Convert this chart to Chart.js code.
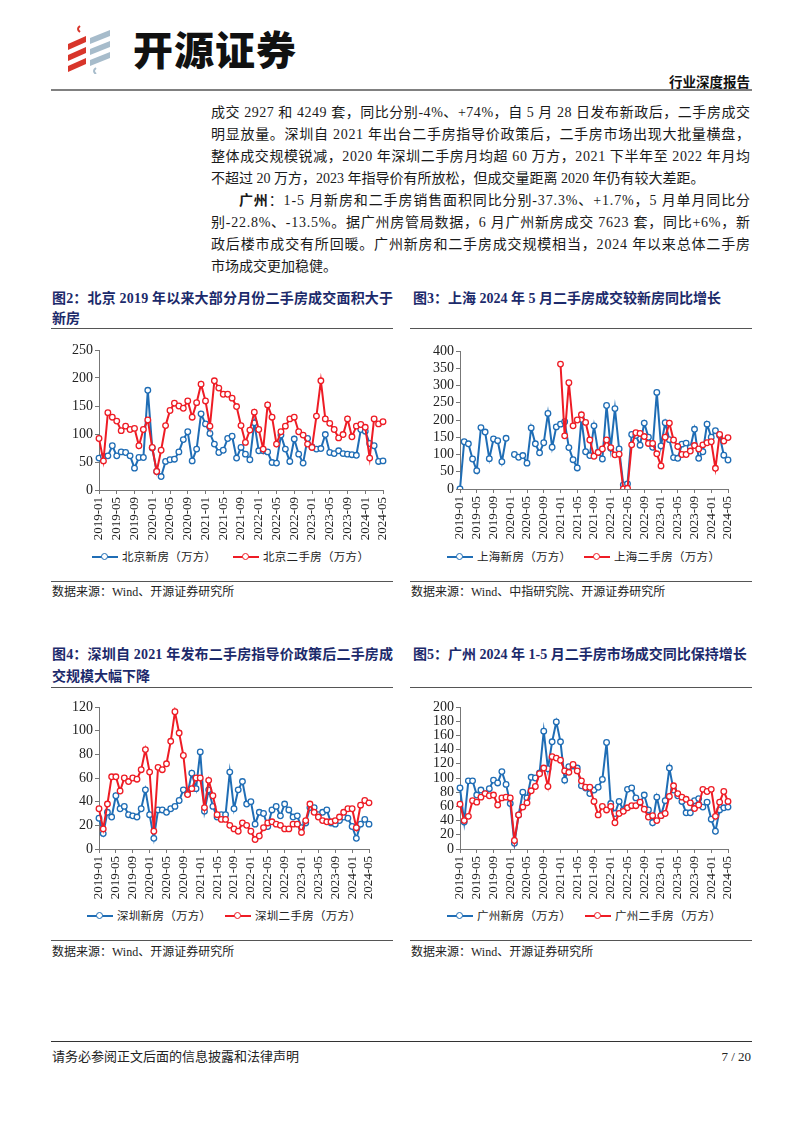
<!DOCTYPE html>
<html>
<head>
<meta charset="utf-8">
<script src="https://cdn.jsdelivr.net/npm/chart.js@4.4.1/dist/chart.umd.min.js"></script>
<style>
body { margin: 0; background: #fff; }
#page { position: relative; width: 802px; height: 1133px; overflow: hidden; background: #fff;
        font-family: "Liberation Serif", "Noto Sans CJK SC", serif; color: #1a1a1a; }
.abs { position: absolute; white-space: nowrap; }
.txt { position: absolute; left: 211px; font-size: 14px; line-height: 22px; white-space: nowrap; }
.ttl { position: absolute; font-size: 14px; line-height: 20px; font-weight: bold; color: #1c2a6b; white-space: nowrap; }
.rule { position: absolute; height: 1px; background: #555; }
.src { position: absolute; font-size: 12px; line-height: 14px; color: #222; white-space: nowrap; }
.leg { position: absolute; font-size: 11.5px; line-height: 14px; color: #222; white-space: nowrap; letter-spacing: 0.3px; }
.sample { position: absolute; width: 26px; height: 2px; }
.dot { position: absolute; left: 9px; top: -3px; width: 5px; height: 5px; border-radius: 50%; background: #fff; border: 1.4px solid; }
canvas { position: absolute; }
</style>
</head>
<body>
<div id="page">

<svg class="abs" style="left:66px;top:24px" width="48" height="50" viewBox="0 0 48 50">
  <path d="M14 2 q-4 3 0 6" stroke="#d8352a" stroke-width="2" fill="none"/>
  <polygon points="2,20 20,12 20,18 2,26" fill="#d8352a"/>
  <polygon points="2,31 20,23 20,29 2,37" fill="#d8352a"/>
  <polygon points="2,42 20,34 20,40 2,48" fill="#d8352a"/>
  <polygon points="24,14 44,6 44,12 24,20" fill="#a7bccb"/>
  <polygon points="24,25 44,17 44,23 24,31" fill="#a7bccb"/>
  <polygon points="24,36 44,28 44,34 24,42" fill="#a7bccb"/>
  <path d="M30 44 q-4 3 0 6" stroke="#a7bccb" stroke-width="2" fill="none"/>
</svg>
<div class="abs" style="left:133px;top:24px;font-family:'Noto Sans CJK SC';font-weight:900;font-size:40px;line-height:48px;letter-spacing:1px;color:#111">开源证券</div>
<div class="abs" style="right:52px;top:73px;font-family:'Noto Sans CJK SC';font-weight:bold;font-size:13.5px;line-height:16px;color:#111">行业深度报告</div>
<div class="abs" style="left:51px;top:89px;width:701px;height:2px;background:#808080"></div>

<div class="txt fit" style="top:102px">成交 2927 和 4249 套，同比分别-4%、+74%，自 5 月 28 日发布新政后，二手房成交</div>
<div class="txt fit" style="top:124px">明显放量。深圳自 2021 年出台二手房指导价政策后，二手房市场出现大批量横盘，</div>
<div class="txt fit" style="top:146px">整体成交规模锐减，2020 年深圳二手房月均超 60 万方，2021 下半年至 2022 年月均</div>
<div class="txt" style="top:168px">不超过 20 万方，2023 年指导价有所放松，但成交量距离 2020 年仍有较大差距。</div>
<div class="txt fit" style="top:190px;left:239px" data-w="511"><b>广州</b>：1-5 月新房和二手房销售面积同比分别-37.3%、+1.7%，5 月单月同比分</div>
<div class="txt fit" style="top:212px">别-22.8%、-13.5%。据广州房管局数据，6 月广州新房成交 7623 套，同比+6%，新</div>
<div class="txt fit" style="top:234px">政后楼市成交有所回暖。广州新房和二手房成交规模相当，2024 年以来总体二手房</div>
<div class="txt" style="top:256px">市场成交更加稳健。</div>

<div class="ttl fit" style="left:52px;top:289px" data-w="341">图2：北京 2019 年以来大部分月份二手房成交面积大于</div>
<div class="ttl" style="left:52px;top:309px">新房</div>
<div class="rule" style="left:51px;top:328px;width:342px"></div>
<div class="ttl" style="left:413px;top:289px">图3：上海 2024 年 5 月二手房成交较新房同比增长</div>
<div class="rule" style="left:410px;top:328px;width:342px"></div>

<canvas id="c1"></canvas>
<canvas id="c2"></canvas>
<div id="leg1"></div>
<div id="leg2"></div>

<div class="rule" style="left:51px;top:581px;width:342px"></div>
<div class="rule" style="left:410px;top:581px;width:342px"></div>
<div class="src" style="left:52px;top:585px">数据来源：Wind、开源证券研究所</div>
<div class="src" style="left:411px;top:585px">数据来源：Wind、中指研究院、开源证券研究所</div>

<div class="ttl fit" style="left:52px;top:645px" data-w="341">图4：深圳自 2021 年发布二手房指导价政策后二手房成</div>
<div class="ttl" style="left:52px;top:667px">交规模大幅下降</div>
<div class="rule" style="left:51px;top:687px;width:342px"></div>
<div class="ttl" style="left:413px;top:645px">图5：广州 2024 年 1-5 月二手房市场成交同比保持增长</div>
<div class="rule" style="left:410px;top:687px;width:342px"></div>

<canvas id="c3"></canvas>
<canvas id="c4"></canvas>
<div id="leg3"></div>
<div id="leg4"></div>

<div class="rule" style="left:51px;top:940px;width:342px"></div>
<div class="rule" style="left:410px;top:940px;width:342px"></div>
<div class="src" style="left:52px;top:945px">数据来源：Wind、开源证券研究所</div>
<div class="src" style="left:411px;top:945px">数据来源：Wind、开源证券研究所</div>

<div class="rule" style="left:51px;top:1041px;width:701px;background:#333"></div>
<div class="src" style="left:52px;top:1049px;font-size:13px;line-height:15px">请务必参阅正文后面的信息披露和法律声明</div>
<div class="src" style="right:51px;top:1049px;font-size:13px;line-height:15px">7 / 20</div>
</div>

<script>
const months = ['2019-01','2019-02','2019-03','2019-04','2019-05','2019-06','2019-07','2019-08','2019-09','2019-10','2019-11','2019-12',
  '2020-01','2020-02','2020-03','2020-04','2020-05','2020-06','2020-07','2020-08','2020-09','2020-10','2020-11','2020-12',
  '2021-01','2021-02','2021-03','2021-04','2021-05','2021-06','2021-07','2021-08','2021-09','2021-10','2021-11','2021-12',
  '2022-01','2022-02','2022-03','2022-04','2022-05','2022-06','2022-07','2022-08','2022-09','2022-10','2022-11','2022-12',
  '2023-01','2023-02','2023-03','2023-04','2023-05','2023-06','2023-07','2023-08','2023-09','2023-10','2023-11','2023-12',
  '2024-01','2024-02','2024-03','2024-04','2024-05'];

// 北京
const bjNew = [57,60,61,79,61,68,67,61,39,58,58,178,75,33,24,51,54,55,68,90,104,52,73,136,118,101,82,67,71,92,96,57,76,64,54,120,70,70,68,49,48,98,73,51,91,64,48,92,77,73,74,99,67,65,70,65,64,63,62,108,105,83,79,51,52];
const bjSecond = [92,52,138,130,123,106,114,108,110,79,108,125,76,33,71,115,142,155,150,146,159,130,156,189,159,114,195,182,171,171,164,149,115,85,107,139,108,73,152,130,82,104,114,127,130,104,98,82,76,132,195,127,119,108,93,99,127,95,114,117,112,57,127,118,122];

// 上海
const shNew = [0,137,131,87,53,178,165,88,145,140,79,147,null,100,92,97,75,177,131,105,134,219,121,180,188,195,120,85,61,202,108,97,183,107,87,242,118,233,116,12,15,158,155,127,191,150,121,280,125,192,143,91,89,130,133,120,173,89,108,188,150,169,155,98,84];
const shSecond = [null,null,null,null,null,null,null,null,null,null,null,null,null,null,null,null,null,null,null,null,null,null,null,null,
  362,154,308,183,200,215,193,142,95,106,116,142,120,99,101,0,2,128,163,161,152,132,132,102,67,150,191,142,123,100,100,110,126,116,128,134,137,60,158,139,149];

// 深圳
const szNew = [26,13,31,27,45,34,36,29,28,27,34,50,29,9,33,33,31,34,36,41,50,47,64,51,82,32,50,36,27,29,29,65,34,50,57,38,40,21,31,30,19,33,36,28,38,33,27,28,18,22,35,35,29,31,33,22,21,24,27,26,19,9,21,25,21];
const szSecond = [34,17,38,61,61,49,60,57,60,59,67,84,65,15,69,67,72,91,116,98,79,46,51,60,60,35,58,45,29,25,25,20,17,15,22,20,15,8,11,18,22,23,21,20,17,17,21,21,14,24,38,31,27,24,23,23,24,27,31,34,34,18,37,41,39];

// 广州
const gzNew = [86,38,96,96,76,83,78,85,97,93,109,91,64,8,48,80,72,101,100,107,166,113,151,179,151,97,116,117,114,89,86,78,83,87,98,150,64,50,67,55,84,86,72,65,76,55,37,73,47,68,114,83,75,67,51,51,68,71,59,66,42,25,55,58,59];
const gzSecond = [63,40,46,68,66,73,78,75,76,62,72,73,72,12,48,59,65,82,88,106,114,88,130,128,125,110,108,119,110,96,87,87,67,48,60,55,60,37,50,53,58,61,61,66,56,45,47,40,47,50,74,89,78,73,70,65,57,62,84,81,84,46,66,81,67];

const seriesNames = {
  c1: ['北京新房（万方）', '北京二手房（万方）'],
  c2: ['上海新房（万方）', '上海二手房（万方）'],
  c3: ['深圳新房（万方）', '深圳二手房（万方）'],
  c4: ['广州新房（万方）', '广州二手房（万方）']
};
const yMax = { c1: 250, c2: 400, c3: 120, c4: 200 };
const yStep = { c1: 50, c2: 50, c3: 20, c4: 20 };

const BLUE = '#1f6db5';
const RED = '#ee1c25';

function makeChart(id, box, newData, secondData) {
  const cv = document.getElementById(id);
  cv.width = box.w; cv.height = box.h;
  cv.style.left = box.x + 'px'; cv.style.top = box.y + 'px';
  const names = seriesNames[id];
  const ds = (label, data, color, order) => ({
    label, data, borderColor: color, backgroundColor: color, borderWidth: 2,
    pointRadius: 2.8, pointBorderWidth: 1.3, pointBackgroundColor: '#fff', pointBorderColor: color,
    tension: 0, spanGaps: false, order
  });
  new Chart(cv, {
    type: 'line',
    data: { labels: months, datasets: [ds(names[0], newData, BLUE, 1), ds(names[1], secondData, RED, 0)] },
    options: {
      responsive: false, animation: false, devicePixelRatio: 1,
      layout: { padding: { top: box.pt, right: box.pr, left: 0, bottom: 0 } },
      plugins: { legend: { display: false }, tooltip: { enabled: false } },
      scales: {
        x: {
          offset: false,
          grid: { display: true, drawOnChartArea: false, drawTicks: true, tickLength: 4, color: '#777' },
          border: { display: true, color: '#777', width: 1 },
          ticks: { autoSkip: false, minRotation: 90, maxRotation: 90, padding: 3, color: '#222',
                   font: { family: '"Liberation Serif"', size: 13 },
                   callback: (v, i) => (i % 4 === 0 ? months[i] : null) },
          afterFit: s => { s.height = box.xh; s.paddingLeft = 0; s.paddingRight = 0; }
        },
        y: {
          min: 0, max: yMax[id],
          grid: { display: true, drawOnChartArea: false, drawTicks: true, tickLength: 4, color: '#777' },
          border: { display: true, color: '#777', width: 1 },
          ticks: { stepSize: yStep[id], autoSkip: false, padding: 2, color: '#222',
                   font: { family: '"Liberation Serif"', size: 14 } },
          afterFit: s => { s.width = box.yw; s.paddingTop = 0; s.paddingBottom = 0; }
        }
      }
    }
  });

  // legend: line sample with a hollow circle, then the series name
  const leg = document.getElementById(box.leg);
  const items = [[names[0], BLUE, box.l1], [names[1], RED, box.l2]];
  items.forEach(([name, color, lx]) => {
    const s = document.createElement('div');
    s.className = 'sample';
    s.style.left = lx + 'px'; s.style.top = (box.ly - 1) + 'px'; s.style.background = color;
    const d = document.createElement('div');
    d.className = 'dot'; d.style.borderColor = color;
    s.appendChild(d);
    leg.appendChild(s);
    const t = document.createElement('div');
    t.className = 'leg';
    t.textContent = name;
    t.style.left = (lx + 30) + 'px'; t.style.top = (box.ly - 7) + 'px';
    leg.appendChild(t);
  });
}

makeChart('c1', { x: 52, y: 340, w: 343, h: 205, yw: 47, xh: 55, pt: 10, pr: 12, leg: 'leg1', ly: 557, l1: 92, l2: 233 }, bjNew, bjSecond);
makeChart('c2', { x: 410, y: 341, w: 330, h: 204, yw: 50, xh: 56, pt: 10, pr: 12, leg: 'leg2', ly: 557, l1: 447, l2: 584 }, shNew, shSecond);
makeChart('c3', { x: 52, y: 697, w: 330, h: 207, yw: 47, xh: 55, pt: 10, pr: 13, leg: 'leg3', ly: 916, l1: 87, l2: 225 }, szNew, szSecond);
makeChart('c4', { x: 410, y: 697, w: 330, h: 207, yw: 50, xh: 55, pt: 10, pr: 12, leg: 'leg4', ly: 916, l1: 447, l2: 585 }, gzNew, gzSecond);

// justify single lines to their column width
function fitLines() {
  document.querySelectorAll('.fit').forEach(el => {
    const w = parseFloat(el.dataset.w || 539);
    el.style.letterSpacing = '0px';
    el.style.display = 'inline-block';
    const nat = el.getBoundingClientRect().width;
    const n = el.textContent.length;
    if (n > 1) el.style.letterSpacing = ((w - nat) / (n - 1)) + 'px';
  });
}
fitLines();
if (document.fonts && document.fonts.ready) document.fonts.ready.then(fitLines);
</script>
</body>
</html>
